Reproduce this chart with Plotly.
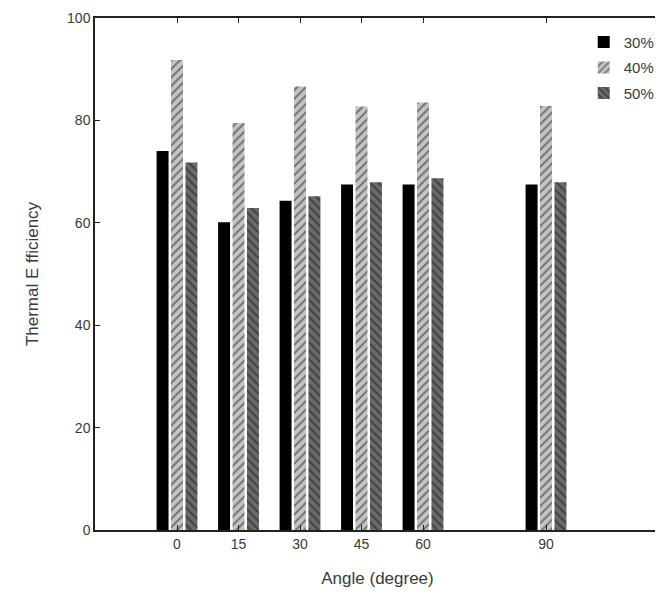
import plotly.graph_objects as go

angles = [0, 15, 30, 45, 60, 90]
tick_labels = ["0", "15", "30", "45", "60", "90"]
series_names = ["30%", "40%", "50%"]
eff_30 = [74.0, 60.1, 64.3, 67.5, 67.5, 67.5]
eff_40 = [91.8, 79.5, 86.6, 82.7, 83.5, 82.8]
eff_50 = [71.8, 62.9, 65.2, 67.9, 68.7, 67.9]

FONT = "Liberation Sans, Arial, sans-serif"
TXT = "#3a3a3a"

fig = go.Figure()
fig.add_trace(go.Bar(
    x=angles, y=eff_30, name=series_names[0], legendgroup="a",
    marker=dict(color="#000000", line=dict(width=0)),
))
fig.add_trace(go.Bar(
    x=angles, y=eff_40, name=series_names[1], legendgroup="b",
    marker=dict(color="#c4c4c4", line=dict(width=0),
                pattern=dict(shape="/", bgcolor="#c4c4c4", fgcolor="#222222",
                             size=6, solidity=0.35)),
))
fig.add_trace(go.Bar(
    x=angles, y=eff_50, name=series_names[2], legendgroup="c",
    marker=dict(color="#6a6a6a", line=dict(width=0),
                pattern=dict(shape="\\", bgcolor="#6a6a6a", fgcolor="#1a1a1a",
                             size=6, solidity=0.35)),
))

fig.update_layout(
    width=655, height=597,
    margin=dict(l=87, r=1, t=10, b=75),
    paper_bgcolor="white", plot_bgcolor="white",
    barmode="group", bargap=0.296, bargroupgap=0.17,
    font=dict(family=FONT, size=14, color=TXT),
    showlegend=True,
    legend=dict(x=0.865, y=0.985, xanchor="left", yanchor="top",
                bgcolor="rgba(0,0,0,0)", borderwidth=0,
                tracegroupgap=3, font=dict(size=15, color=TXT)),
)
fig.update_xaxes(
    range=[-20, 117.8], tickmode="array", tickvals=angles, ticktext=tick_labels,
    showgrid=False, zeroline=False, showline=True, linecolor="#222222", linewidth=1.5,
    mirror="ticks", ticks="inside", ticklen=5, tickcolor="#222222",
    title=dict(text="Angle (degree)", font=dict(size=17, color=TXT), standoff=22),
    tickfont=dict(size=14, color=TXT),
)
fig.update_yaxes(
    range=[0, 100], tickmode="array", tickvals=[0, 20, 40, 60, 80, 100],
    showgrid=False, zeroline=False, showline=True, linecolor="#222222", linewidth=1.5,
    mirror="ticks", ticks="inside", ticklen=5, tickcolor="#222222",
    title=dict(text="Thermal E fficiency", font=dict(size=17, color=TXT), standoff=24),
    tickfont=dict(size=14, color=TXT),
)

fig.write_html("out.html")
